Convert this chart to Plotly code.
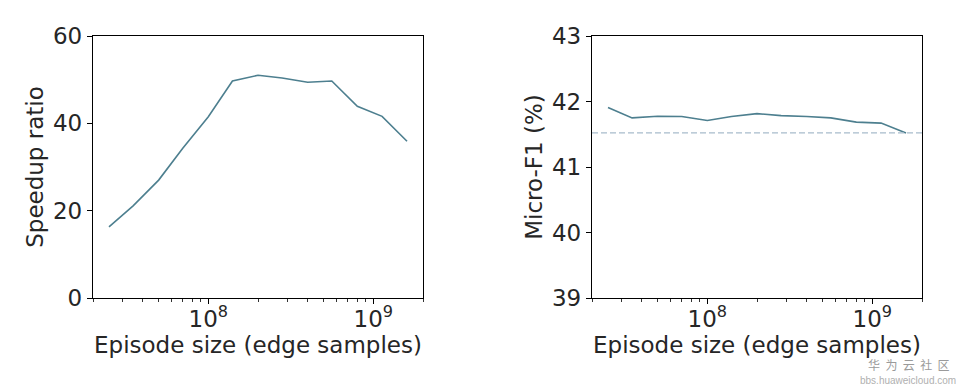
import math
import plotly.graph_objects as go

episode_sizes = [2.5e7, 3.5e7, 5e7, 7e7, 1e8, 1.4e8, 2e8, 2.8e8, 4e8, 5.6e8, 8e8, 1.13e9, 1.6e9]
speedup_ratio = [16.3, 21.1, 27.0, 34.3, 41.5, 49.7, 51.0, 50.4, 49.4, 49.7, 43.9, 41.6, 35.9]
micro_f1 = [41.91, 41.75, 41.775, 41.77, 41.71, 41.77, 41.815, 41.785, 41.77, 41.75, 41.685, 41.67, 41.52]
baseline_f1 = 41.52

x_tickvals = [1e8, 1e9]
x_ticktext = ["10<sup>8</sup>", "10<sup>9</sup>"]
left_yticks = [0, 20, 40, 60]
right_yticks = [39, 40, 41, 42, 43]

LINE = "#4d7f8f"
DASH = "#a8bccb"
FONT = "DejaVu Sans"
TXT = "#262626"
FS = 23

fig = go.Figure()
fig.add_trace(go.Scatter(x=episode_sizes, y=speedup_ratio, mode="lines",
                         line=dict(color=LINE, width=1.6), xaxis="x", yaxis="y", showlegend=False))
fig.add_trace(go.Scatter(x=episode_sizes, y=micro_f1, mode="lines",
                         line=dict(color=LINE, width=1.6), xaxis="x2", yaxis="y2", showlegend=False))

W, H = 964, 391
OFF = 8  # page body margin
ydom = [1 - (298 - OFF) / H, 1 - (36 - OFF) / H]
xr = [math.log10(2e7), math.log10(2e9)]

common_x = dict(type="log", range=xr, tickvals=x_tickvals, ticktext=x_ticktext, automargin=False,
                showline=True, linecolor="black", linewidth=1.3, mirror=True,
                ticks="outside", ticklen=5, tickwidth=1.2, tickcolor="black", ticklabelstandoff=-5,
                minor=dict(ticks="outside", ticklen=3, tickwidth=1, tickcolor="#333", dtick="D1"),
                showgrid=False, zeroline=False,
                tickfont=dict(family=FONT, size=FS, color=TXT),
                title=dict(text="Episode size (edge samples)", font=dict(family=FONT, size=FS, color=TXT), standoff=6))
common_y = dict(showline=True, linecolor="black", linewidth=1.3, mirror=True, automargin=False,
                ticks="outside", ticklen=5, tickwidth=1.2, tickcolor="black",
                showgrid=False, zeroline=False,
                tickfont=dict(family=FONT, size=FS, color=TXT))

fig.update_layout(
    width=W, height=H, margin=dict(l=0, r=0, t=0, b=0),
    paper_bgcolor="white", plot_bgcolor="white",
    xaxis=dict(common_x, domain=[(93 - OFF) / W, (423 - OFF) / W], anchor="y"),
    yaxis=dict(common_y, domain=ydom, anchor="x", range=[0, 60], tickvals=left_yticks,
               title=dict(text="Speedup ratio", font=dict(family=FONT, size=FS, color=TXT), standoff=2)),
    xaxis2=dict(common_x, domain=[(592 - OFF) / W, (922 - OFF) / W], anchor="y2"),
    yaxis2=dict(common_y, domain=ydom, anchor="x2", range=[39, 43], tickvals=right_yticks,
                title=dict(text="Micro-F1 (%)", font=dict(family=FONT, size=FS, color=TXT), standoff=2)),
    shapes=[dict(type="line", xref="x2 domain", yref="y2", x0=0, x1=1, y0=baseline_f1, y1=baseline_f1,
                 line=dict(color=DASH, width=1.3, dash="6px,3px"))],
    annotations=[
        dict(text="华  为  云  社  区", x=(909 - OFF) / W, y=(H - 364 + OFF) / H, xref="paper", yref="paper",
             xanchor="center", yanchor="middle",
             showarrow=False, font=dict(family="Noto Sans CJK SC", size=12, color="#9a9a9a")),
        dict(text="bbs.huaweicloud.com", x=(908 - OFF) / W, y=(H - 380 + OFF) / H, xref="paper", yref="paper",
             xanchor="center", yanchor="middle",
             showarrow=False, font=dict(family="Liberation Sans", size=10, color="#b0b0b0")),
    ],
)

fig.write_html("out.html")
